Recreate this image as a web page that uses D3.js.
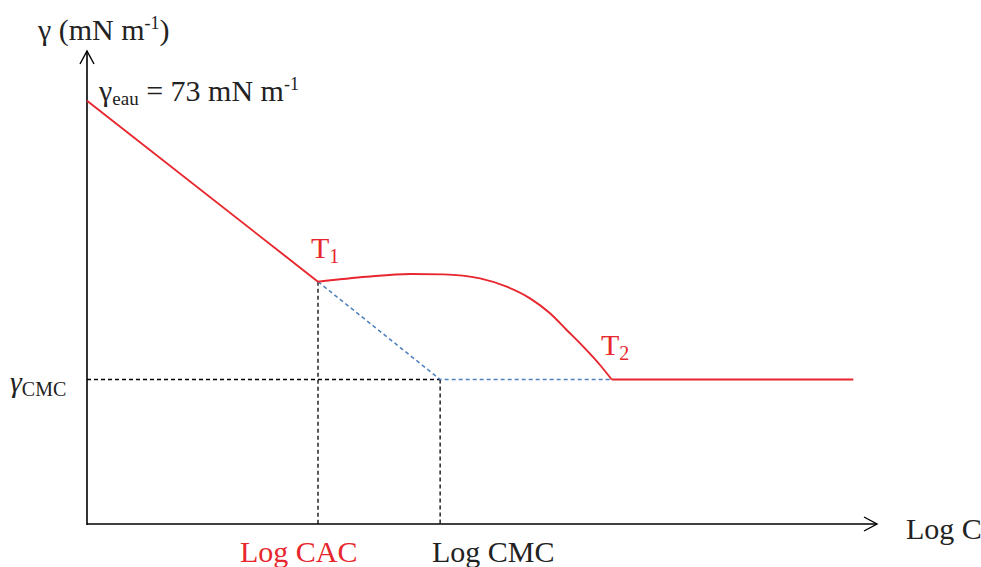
<!DOCTYPE html>
<html>
<head>
<meta charset="utf-8">
<script src="https://cdn.jsdelivr.net/npm/d3@7"></script>
<style>
  html, body { margin: 0; padding: 0; background: #fff; }
  svg { display: block; }
  text { font-family: "Liberation Serif", "Times New Roman", serif; }
</style>
</head>
<body>
<svg id="chart" width="981" height="567"></svg>
<script>
// ---- data (abstract units: x = log C, y = surface tension in mN m-1) ----
const gammaWater = 73;
const gammaCMC = 24.93;
const logCAC = 29.24;
const logCMC = 44.7;
const logT2 = 66.42;
const logEnd = 97.0;
const gammaT1 = 41.8;

// initial linear decrease: water -> T1
const descentX = [0, logCAC];
const descentY = [gammaWater, gammaT1];
// plateau / curved part between T1 and T2
const curveX = [logCAC, 35.41, 40.89, 45.10, 49.75, 53.13, 56.08, 58.61, 60.72, 62.82, 64.94, logT2];
const curveY = [gammaT1, 42.66, 43.13, 43.07, 42.38, 40.94, 38.93, 36.35, 33.47, 30.59, 27.43, gammaCMC];
// constant tension after T2
const flatX = [logT2, logEnd];
const flatY = [gammaCMC, gammaCMC];
// theoretical (blue dashed) extrapolation
const theoX = [logCAC, logCMC, logT2];
const theoY = [gammaT1, gammaCMC, gammaCMC];

const xMax = 100, yMax = 81.6;

const svg = d3.select("#chart");
const x = d3.scaleLinear().domain([0, xMax]).range([87, 877]);
const y = d3.scaleLinear().domain([0, yMax]).range([524, 51]);

const red = "#e8262d";
const blue = "#4f81bd";
const zip = (xs, ys) => xs.map((v, i) => [v, ys[i]]);
const line = d3.line().x(d => x(d[0])).y(d => y(d[1]));
const smooth = d3.line().x(d => x(d[0])).y(d => y(d[1])).curve(d3.curveMonotoneX);

// axes
const axisG = svg.append("g").attr("stroke", "#000").attr("fill", "none").attr("stroke-width", 1.6);
axisG.append("line").attr("x1", x(0)).attr("x2", x(0)).attr("y1", y(0) + 1).attr("y2", y(yMax));
axisG.append("line").attr("x1", x(0)).attr("x2", x(xMax)).attr("y1", y(0)).attr("y2", y(0));
axisG.append("path").attr("stroke-width", 1.4)
  .attr("d", `M${x(0) - 7},${y(yMax) + 13} L${x(0)},${y(yMax)} L${x(0) + 7},${y(yMax) + 13}`);
axisG.append("path").attr("stroke-width", 1.4)
  .attr("d", `M${x(xMax) - 13},${y(0) - 7} L${x(xMax)},${y(0)} L${x(xMax) - 13},${y(0) + 7}`);

// black dashed guide lines
const guides = svg.append("g").attr("stroke", "#000").attr("stroke-width", 1.3)
  .attr("stroke-dasharray", "4,3").attr("fill", "none");
guides.append("path").attr("d", line([[0, gammaCMC], [logCMC, gammaCMC]]));
guides.append("path").attr("d", line([[logCAC, gammaT1], [logCAC, 0]]));
guides.append("path").attr("d", line([[logCMC, gammaCMC], [logCMC, 0]]));

// blue dashed theoretical line
svg.append("path").attr("d", line(zip(theoX, theoY)))
  .attr("fill", "none").attr("stroke", blue).attr("stroke-width", 1.5).attr("stroke-dasharray", "4,3");

// red measured curve
const redG = svg.append("g").attr("fill", "none").attr("stroke", red).attr("stroke-width", 1.9)
  .attr("stroke-linejoin", "round");
redG.append("path").attr("d", line(zip(descentX, descentY)));
redG.append("path").attr("d", smooth(zip(curveX, curveY)));
redG.append("path").attr("d", line(zip(flatX, flatY)));

// texts
const fs = 30;
const t1 = svg.append("text").attr("x", 38).attr("y", 40).attr("font-size", fs).attr("fill", "#222");
t1.append("tspan").text("γ (mN m");
t1.append("tspan").attr("font-size", 18).attr("dy", -11).text("-1");
t1.append("tspan").attr("dy", 11).text(")");

const t2 = svg.append("text").attr("x", 99).attr("y", 101).attr("font-size", fs).attr("fill", "#222");
t2.append("tspan").text("γ");
t2.append("tspan").attr("font-size", 19).attr("dy", 4).text("eau");
t2.append("tspan").attr("dy", -4).text(" = 73 mN m");
t2.append("tspan").attr("font-size", 18).attr("dy", -11).text("-1");

const t3 = svg.append("text").attr("x", 10).attr("y", y(gammaCMC) + 13).attr("font-size", fs).attr("fill", "#222");
t3.append("tspan").attr("font-style", "italic").text("γ");
t3.append("tspan").attr("font-size", 20).attr("dy", 4).text("CMC");

const tT1 = svg.append("text").attr("x", 311).attr("y", 258).attr("font-size", fs).attr("fill", red);
tT1.append("tspan").text("T");
tT1.append("tspan").attr("font-size", 20).attr("dy", 5).text("1");

const tT2 = svg.append("text").attr("x", 601).attr("y", 355).attr("font-size", fs).attr("fill", red);
tT2.append("tspan").text("T");
tT2.append("tspan").attr("font-size", 20).attr("dy", 5).text("2");

svg.append("text").attr("x", 240).attr("y", 562)
  .attr("font-size", fs).attr("fill", red).text("Log CAC");
svg.append("text").attr("x", 432).attr("y", 562)
  .attr("font-size", fs).attr("fill", "#222").text("Log CMC");
svg.append("text").attr("x", 906).attr("y", 539)
  .attr("font-size", fs).attr("fill", "#222").text("Log C");
</script>
</body>
</html>
